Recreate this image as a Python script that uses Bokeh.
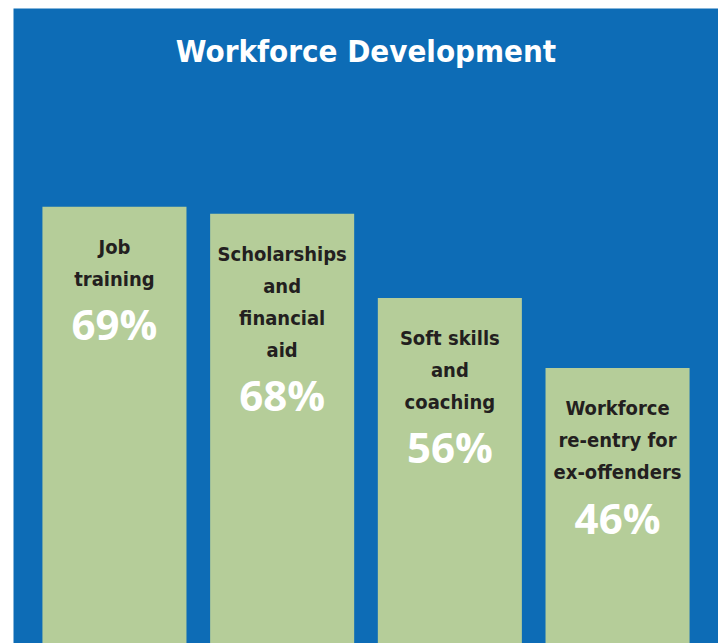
from bokeh.plotting import figure
from bokeh.models import ColumnDataSource, Range1d
from bokeh.core.properties import value
from bokeh.embed import file_html
from bokeh.resources import INLINE

title_text = "Workforce Development"
categories = ["Job\ntraining", "Scholarships\nand\nfinancial\naid",
              "Soft skills\nand\ncoaching", "Workforce\nre-entry for\nex-offenders"]
values = [69, 68, 56, 46]
pct_labels = ["69%", "68%", "56%", "46%"]

BLUE = "#0D6CB6"
GREEN = "#B5CD99"
DARK = "#231F20"
LABEL_FONT = "DejaVu Sans Condensed, Liberation Sans Narrow, Roboto Condensed, sans-serif"

xs = list(range(len(values)))

p = figure(width=718, height=643, output_backend="svg", toolbar_location=None,
           x_range=Range1d(-0.602, 3.602), y_range=Range1d(6.7, 97.3),
           min_border_left=13, min_border_right=0, min_border_top=8, min_border_bottom=0)
p.axis.visible = False
p.grid.visible = False
p.outline_line_color = None
p.background_fill_color = BLUE
p.border_fill_color = "white"

src = ColumnDataSource(dict(x=xs, top=values))
p.vbar(x="x", top="top", bottom=0, width=0.859, source=src,
       fill_color=GREEN, line_color=None)

lx, ly, lt, lo = [], [], [], []
px, py, pt, po = [], [], [], []
for i, (cat, v, pl) in enumerate(zip(categories, values, pct_labels)):
    lines = cat.split("\n")
    for j, ln in enumerate(lines):
        lx.append(xs[i]); ly.append(v); lt.append(ln); lo.append(40 + 32 * j)
    px.append(xs[i]); py.append(v); pt.append(pl); po.append(40 + 32 * (len(lines) - 1) + 45)

p.text(x="x", y="y", text="t", y_offset="o",
       source=ColumnDataSource(dict(x=lx, y=ly, t=lt, o=lo)),
       text_font=value(LABEL_FONT), text_font_style="bold", text_font_size="20px",
       text_color=DARK, text_align="center", text_baseline="middle")
p.text(x="x", y="y", text="t", y_offset="o",
       source=ColumnDataSource(dict(x=px, y=py, t=pt, o=po)),
       text_font=value("Open Sans"), text_font_style="bold", text_font_size="42px",
       text_color="white", text_align="center", text_baseline="middle")

p.text(x=[sum(xs) / len(xs)], y=[97.3], text=[title_text], y_offset=[42],
       text_font=value(LABEL_FONT), text_font_style="bold", text_font_size="31px",
       text_color="white", text_align="center", text_baseline="middle")

open("out.html", "w").write(file_html(p, INLINE))
